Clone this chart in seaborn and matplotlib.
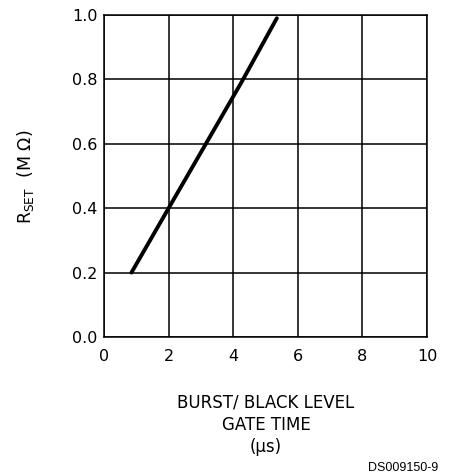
import matplotlib
matplotlib.use("Agg")
import matplotlib.pyplot as plt
import seaborn as sns
import pandas as pd

gate_time_us = [0.85, 2.0, 4.25, 5.35]
rset_mohm = [0.2, 0.4, 0.79, 0.99]
x_ticks = [0, 2, 4, 6, 8, 10]
y_ticks = [0.0, 0.2, 0.4, 0.6, 0.8, 1.0]

sns.set_theme(style="white")
plt.rcParams['font.family'] = ['DejaVu Sans']

df = pd.DataFrame({"t": gate_time_us, "r": rset_mohm})

fig = plt.figure(figsize=(4.49, 4.75), dpi=100)
ax = fig.add_axes([104/449, 1-337/475, (427-104)/449, (337-15)/475])

sns.lineplot(data=df, x="t", y="r", ax=ax, color="black", linewidth=2.8, zorder=3)

ax.set_xlim(0, 10)
ax.set_ylim(0, 1.0)
ax.set_xticks(x_ticks)
ax.set_yticks(y_ticks)
ax.set_xticklabels([str(v) for v in x_ticks])
ax.set_yticklabels([f"{v:.1f}" for v in y_ticks])
ax.grid(True, color="black", linewidth=1.1)
ax.tick_params(length=0, labelsize=11.5, colors="black")
ax.tick_params(axis="x", pad=8.5)
ax.tick_params(axis="y", pad=4.5)
for s in ax.spines.values():
    s.set_color("black")
    s.set_linewidth(1.1)
ax.set_xlabel("")
ax.set_ylabel("")

fig.text(26/449, 1-177/475, r"R$_{\mathregular{SET}}$  (M Ω)", rotation=90,
         ha="center", va="center", fontsize=12.5, color="black")
fig.text(266/449, 1-425/475, "BURST/ BLACK LEVEL\nGATE TIME\n(μs)",
         ha="center", va="center", fontsize=12, color="black", linespacing=1.3)
fig.text(438/449, 1-468/475, "DS009150-9", ha="right", va="center",
         fontsize=9, color="black", family="Liberation Sans")

fig.savefig("out.png", dpi=100)
